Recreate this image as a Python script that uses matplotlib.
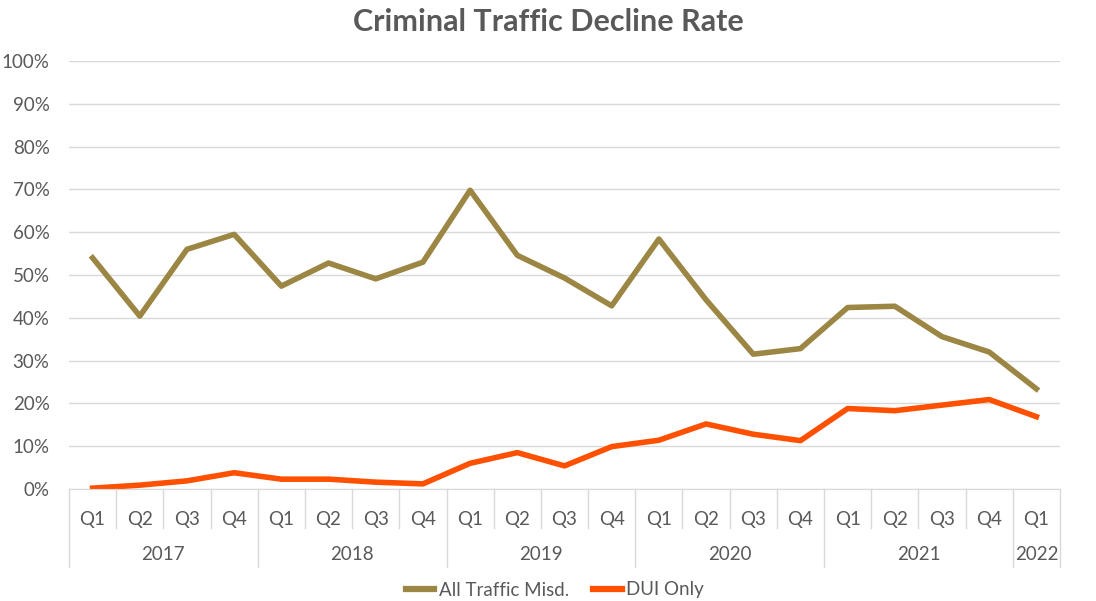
import matplotlib
matplotlib.use("Agg")
import matplotlib.pyplot as plt
import matplotlib.transforms as mtransforms
from matplotlib.ticker import PercentFormatter

# Datos (porcentajes)
years = ["2017", "2018", "2019", "2020", "2021", "2022"]
quarters_per_year = [4, 4, 4, 4, 4, 1]
all_traffic = [54.0, 40.4, 56.0, 59.5, 47.4, 52.8, 49.1, 53.0, 69.8, 54.6, 49.3, 42.8,
               58.4, 44.2, 31.5, 32.8, 42.4, 42.7, 35.6, 32.0, 23.4]
dui_only = [0.2, 0.9, 1.9, 3.8, 2.3, 2.3, 1.6, 1.2, 6.0, 8.5, 5.4, 9.9,
            11.4, 15.2, 12.8, 11.3, 18.8, 18.3, 19.6, 20.9, 16.9]

quarter_labels = []
for n in quarters_per_year:
    quarter_labels += ["Q" + str(q + 1) for q in range(n)]
x = list(range(len(quarter_labels)))

TEXT = "#595959"
GRID = "#D9D9D9"
GOLD = "#9B8643"
ORANGE = "#FF5000"
FS = 13.5
plt.rcParams["font.family"] = ["Lato", "DejaVu Sans"]

fig = plt.figure(figsize=(10.96, 6.01), dpi=100)
ax = fig.add_axes([69 / 1096, 112 / 601, 991 / 1096, 428 / 601])

ax.plot(x, all_traffic, color=GOLD, lw=4, label="All Traffic Misd.")
ax.plot(x, dui_only, color=ORANGE, lw=4, label="DUI Only")

ax.set_ylim(0, 100)
ax.set_xlim(-0.5, len(x) - 0.5)
ax.set_yticks(range(0, 101, 10))
ax.yaxis.set_major_formatter(PercentFormatter(decimals=0))
ax.grid(axis="y", color=GRID, lw=1)
ax.set_axisbelow(True)
for s in ["top", "right", "left"]:
    ax.spines[s].set_visible(False)
ax.spines["bottom"].set_color(GRID)
ax.tick_params(axis="y", length=0, pad=14, labelsize=FS, labelcolor=TEXT)

# Eje de categorias en dos niveles (trimestre / año)
ax.set_xticks(x)
ax.set_xticklabels(quarter_labels)
ax.tick_params(axis="x", length=0, pad=16, labelsize=FS, labelcolor=TEXT)

trans = mtransforms.blended_transform_factory(ax.transData, ax.transAxes)
year_edges = [0]
for n in quarters_per_year:
    year_edges.append(year_edges[-1] + n)
for b in range(len(x) + 1):
    bottom = -0.182 if b in year_edges else -0.091
    ax.plot([b - 0.5, b - 0.5], [0, bottom], color=GRID, lw=1,
            transform=trans, clip_on=False)
for i, yr in enumerate(years):
    mid = (year_edges[i] + year_edges[i + 1]) / 2 - 0.5
    ax.text(mid, -0.154, yr, transform=trans, ha="center", va="center",
            fontsize=FS, color=TEXT)

fig.suptitle("Criminal Traffic Decline Rate", y=1 - 22 / 601, va="center",
             fontsize=22, fontweight="bold", color=TEXT)

leg = fig.legend(loc="center", bbox_to_anchor=(555 / 1096, 1 - 590 / 601), ncol=2,
                 frameon=False, fontsize=FS, handlelength=1.5, handletextpad=0.25,
                 columnspacing=1.3, labelcolor=TEXT)
for h in leg.get_lines():
    h.set_linewidth(4.5)

fig.savefig("out.png", dpi=100)
